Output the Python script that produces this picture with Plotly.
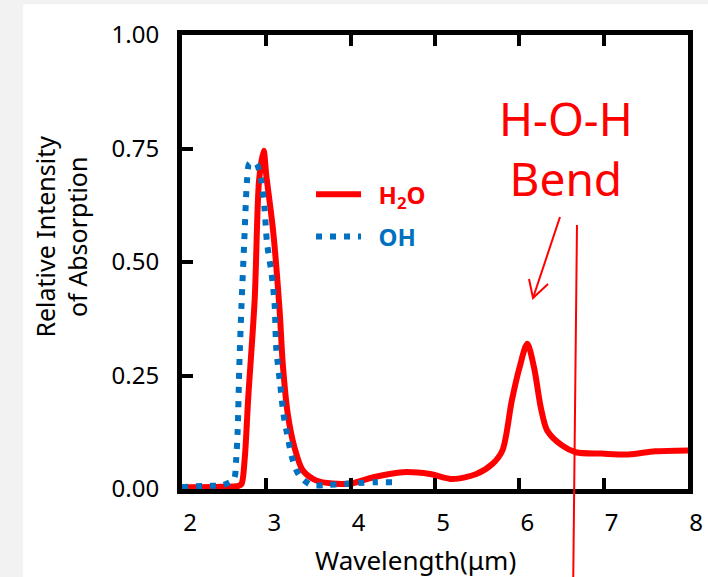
import plotly.graph_objects as go

# ---- data ----
h2o_x = [2.0, 2.47, 2.67, 2.706, 2.745, 2.785, 2.862, 2.914, 2.968, 3.0, 3.079, 3.156,
         3.196, 3.255, 3.333, 3.432, 3.588, 3.785, 4.0, 4.27, 4.62, 4.94, 5.21, 5.49,
         5.68, 5.80, 5.91, 6.0, 6.094, 6.176, 6.255, 6.33, 6.506, 6.67, 6.976, 7.294,
         7.61, 8.0]
h2o_y = [0.004, 0.005, 0.007, 0.011, 0.070, 0.200, 0.418, 0.680, 0.745, 0.690, 0.571, 0.397,
         0.273, 0.164, 0.092, 0.041, 0.019, 0.012, 0.012, 0.026, 0.037, 0.033, 0.022, 0.033,
         0.055, 0.085, 0.194, 0.266, 0.320, 0.266, 0.179, 0.129, 0.096, 0.081, 0.078, 0.076,
         0.083, 0.085]

oh_x = [2.0, 2.255, 2.49, 2.615, 2.64, 2.66, 2.68, 2.706, 2.738, 2.773, 2.80, 2.88, 2.94,
        2.98, 3.008, 3.06, 3.098, 3.118, 3.165, 3.204, 3.255, 3.314, 3.39, 3.53, 3.74,
        4.09, 4.29, 4.49]
oh_y = [0.004, 0.007, 0.009, 0.022, 0.059, 0.129, 0.273, 0.407, 0.545, 0.684, 0.717, 0.717,
        0.680, 0.614, 0.542, 0.477, 0.407, 0.309, 0.229, 0.164, 0.113, 0.063, 0.030, 0.009,
        0.009, 0.013, 0.015, 0.015]

x_ticks = [2, 3, 4, 5, 6, 7, 8]
y_ticks = [0, 0.25, 0.5, 0.75, 1.0]
y_tick_labels = ["0.00", "0.25", "0.50", "0.75", "1.00"]

RED = "#ff0000"
BLUE = "#0070c0"
FONT = "Noto Sans"
NB = "\u00a0\u00a0"

fig = go.Figure()
fig.add_trace(go.Scatter(
    x=h2o_x, y=h2o_y, mode="lines", legendgroup="a",
    name=NB + '<span style="color:#ff0000"><b>H<sub>2</sub>O</b></span>',
    line=dict(color=RED, width=6, shape="spline", smoothing=0.8),
))
fig.add_trace(go.Scatter(
    x=oh_x, y=oh_y, mode="lines", legendgroup="b",
    name=NB + '<span style="color:#0070c0"><b>OH</b></span>',
    line=dict(color=BLUE, width=6, dash="6px,8px", shape="spline", smoothing=0.8),
))

axis_common = dict(
    showline=True, linecolor="black", linewidth=5, mirror=True,
    ticks="inside", ticklen=11, tickwidth=4, tickcolor="black",
    showgrid=False, zeroline=False, automargin=False,
    tickfont=dict(family=FONT, size=24, color="black"),
)

fig.update_xaxes(range=[2, 8], tickvals=x_ticks, ticktext=[str(v) for v in x_ticks],
                 ticklabelshift=8, ticklabelstandoff=8, **{**axis_common, "mirror": "ticks"})
fig.update_yaxes(range=[0, 1], tickvals=y_ticks, ticktext=y_tick_labels,
                 ticklabelstandoff=13, **axis_common)

shapes = [
    # white page area over gray frame
    dict(type="rect", xref="paper", yref="paper", x0=-0.314, x1=1.2, y0=-0.4, y1=1.068,
         fillcolor="white", line=dict(width=0), layer="below"),
    # thin vertical red line
    dict(type="line", xref="paper", yref="paper", x0=0.7806, y0=0.5815, x1=0.7727, y1=-0.25,
         line=dict(color=RED, width=2)),
    # arrow shaft and head
    dict(type="line", xref="paper", yref="paper", x0=0.747, y0=0.599, x1=0.6937, y1=0.4207,
         line=dict(color=RED, width=2)),
    dict(type="path", xref="paper", yref="paper",
         path="M 0.6858 0.4626 L 0.6937 0.4207 L 0.7233 0.4515",
         line=dict(color=RED, width=2)),
]

annotations = [
    dict(text="H-O-H<br>Bend", xref="paper", yref="paper", x=0.7589, y=0.752,
         xanchor="center", yanchor="middle",
         showarrow=False, font=dict(family=FONT, size=46, color=RED), align="center"),
    dict(text="Relative Intensity<br>of Absorption", xref="paper", yref="paper",
         x=-0.24, y=0.555, xanchor="center", yanchor="middle", textangle=-90,
         showarrow=False, font=dict(family=FONT, size=25, color="black"), align="center"),
    dict(text="Wavelength(μm)", xref="paper", yref="paper", x=0.4605, y=-0.156,
         xanchor="center", yanchor="middle",
         showarrow=False, font=dict(family=FONT, size=26, color="black")),
]

fig.update_layout(
    width=708, height=577,
    margin=dict(l=182, r=20, t=35, b=88),
    paper_bgcolor="#f2f2f2", plot_bgcolor="white",
    shapes=shapes, annotations=annotations,
    showlegend=True,
    legend=dict(x=0.255, y=0.698, xanchor="left", yanchor="top",
                bgcolor="rgba(0,0,0,0)", font=dict(family=FONT, size=24),
                tracegroupgap=8, traceorder="grouped", itemwidth=45),
)

fig.write_html("out.html", config={"displayModeBar": False},
               post_script="document.body.style.margin='0';")
